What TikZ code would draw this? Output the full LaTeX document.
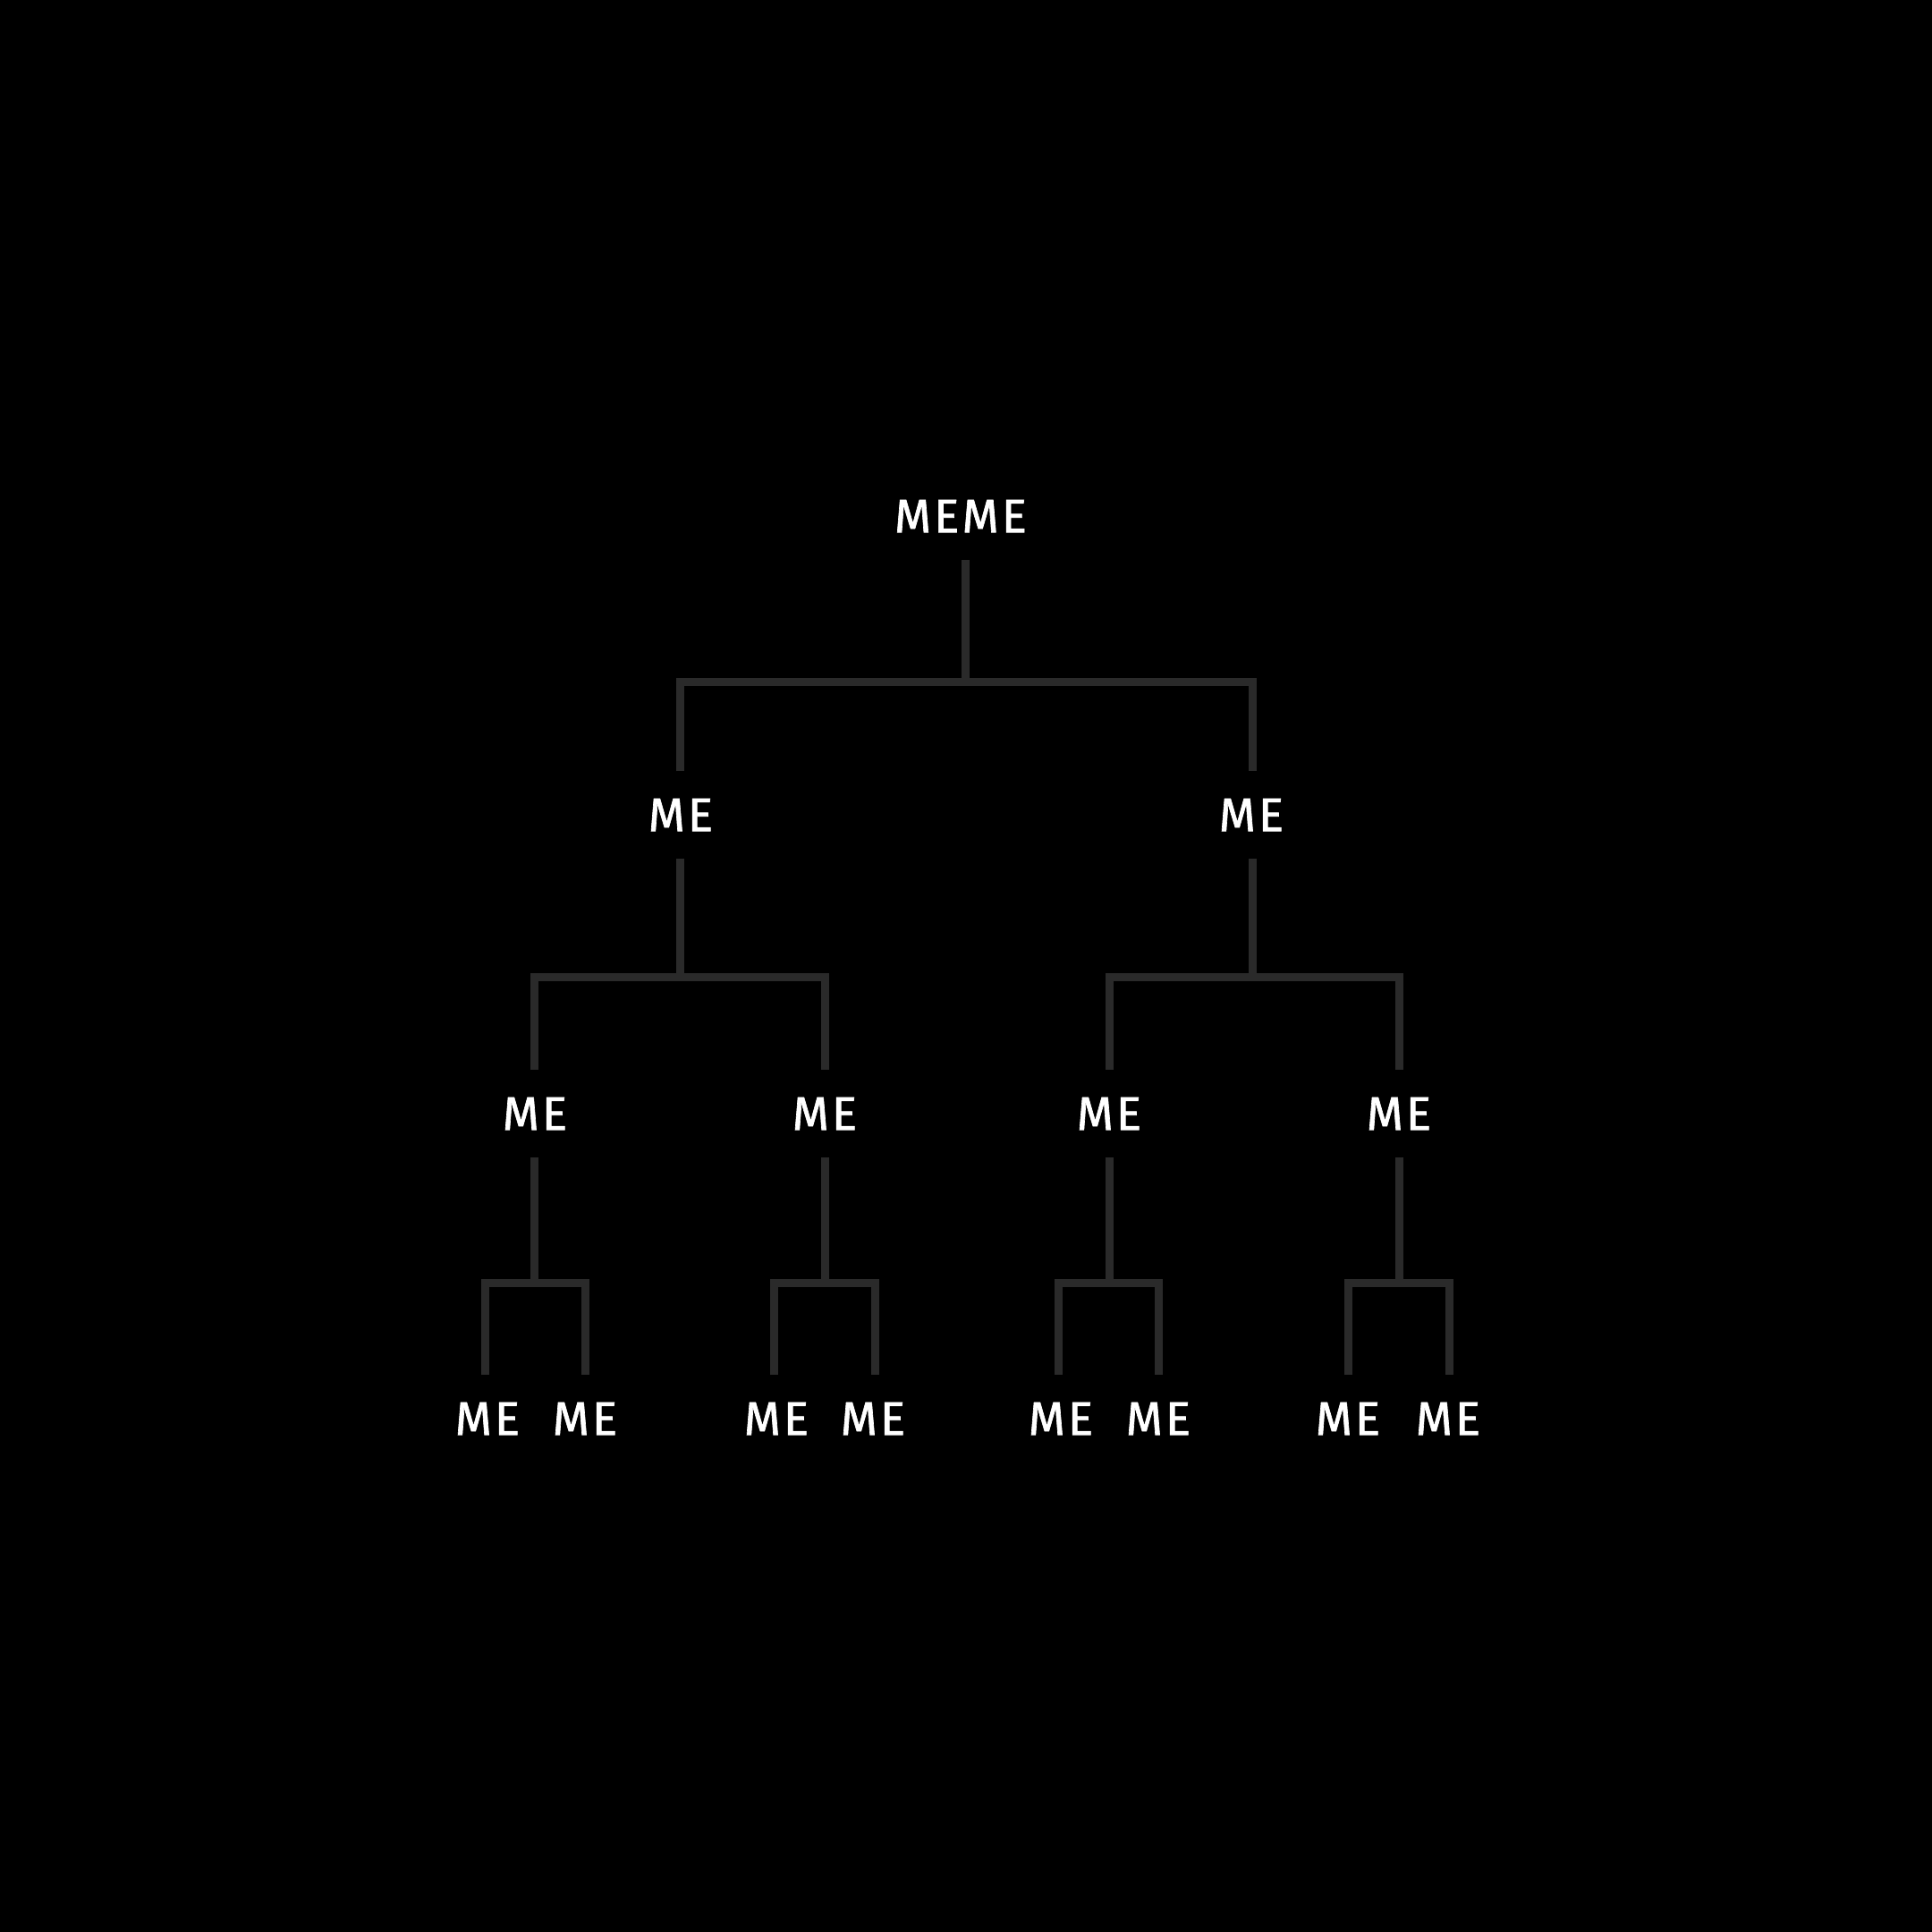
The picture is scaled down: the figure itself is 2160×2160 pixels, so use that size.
\documentclass[tikz,border=0pt]{standalone}
\usepackage{fontspec}
\setmainfont{Fira Sans}[LetterSpace=6,FakeBold=1.2]
\begin{document}
\begin{tikzpicture}[x=0.01cm,y=-0.01cm,
  lbl/.style={text=white,font=\fontsize{15}{18}\selectfont,inner sep=0pt,minimum height=0.96cm,text depth=0pt},
  edge/.style={draw=linegray,line width=0.09cm,line cap=butt,line join=miter}]
\definecolor{linegray}{HTML}{2A2A2A}
\fill[black] (0,0) rectangle (2160,2160);
\useasboundingbox (0,0) rectangle (2160,2160);
% nodes
\node[lbl] (r) at (1074,577) {MEME};
\node[lbl] (a1) at (761,911) {ME};
\node[lbl] (a2) at (1399,911) {ME};
\node[lbl] (c1) at (598,1245) {ME};
\node[lbl] (c2) at (922,1245) {ME};
\node[lbl] (c3) at (1240,1245) {ME};
\node[lbl] (c4) at (1564,1245) {ME};
\node[lbl] (e1) at (545,1586) {ME};
\node[lbl] (e2) at (654,1586) {ME};
\node[lbl] (e3) at (868,1586) {ME};
\node[lbl] (e4) at (976,1586) {ME};
\node[lbl] (e5) at (1186,1586) {ME};
\node[lbl] (e6) at (1295,1586) {ME};
\node[lbl] (e7) at (1507,1586) {ME};
\node[lbl] (e8) at (1619,1586) {ME};
% branch points
\coordinate (b0) at (1079,762);
\coordinate (b1) at (760,1092);
\coordinate (b2) at (1400,1092);
\coordinate (d1) at (597,1434);
\coordinate (d2) at (922,1434);
\coordinate (d3) at (1240,1434);
\coordinate (d4) at (1564,1434);
% connectors
\draw[edge] (r.south -| b0) -- (b0);
\draw[edge] (a1.north -| b1) |- (b0) -| (a2.north -| b2);
\draw[edge] (a1.south -| b1) -- (b1);
\draw[edge] (c1.north -| d1) |- (b1) -| (c2.north);
\draw[edge] (a2.south -| b2) -- (b2);
\draw[edge] (c3.north) |- (b2) -| (c4.north);
\draw[edge] (c1.south -| d1) -- (d1);
\draw[edge] ([xshift=-0.03cm]e1.north) |- (d1) -| (e2.north);
\draw[edge] (c2.south) -- (d2);
\draw[edge] ([xshift=-0.03cm]e3.north) |- (d2) -| ([xshift=0.02cm]e4.north);
\draw[edge] (c3.south) -- (d3);
\draw[edge] ([xshift=-0.03cm]e5.north) |- (d3) -| (e6.north);
\draw[edge] (c4.south) -- (d4);
\draw[edge] (e7.north) |- (d4) -| ([xshift=0.01cm]e8.north);
\end{tikzpicture}
\end{document}
